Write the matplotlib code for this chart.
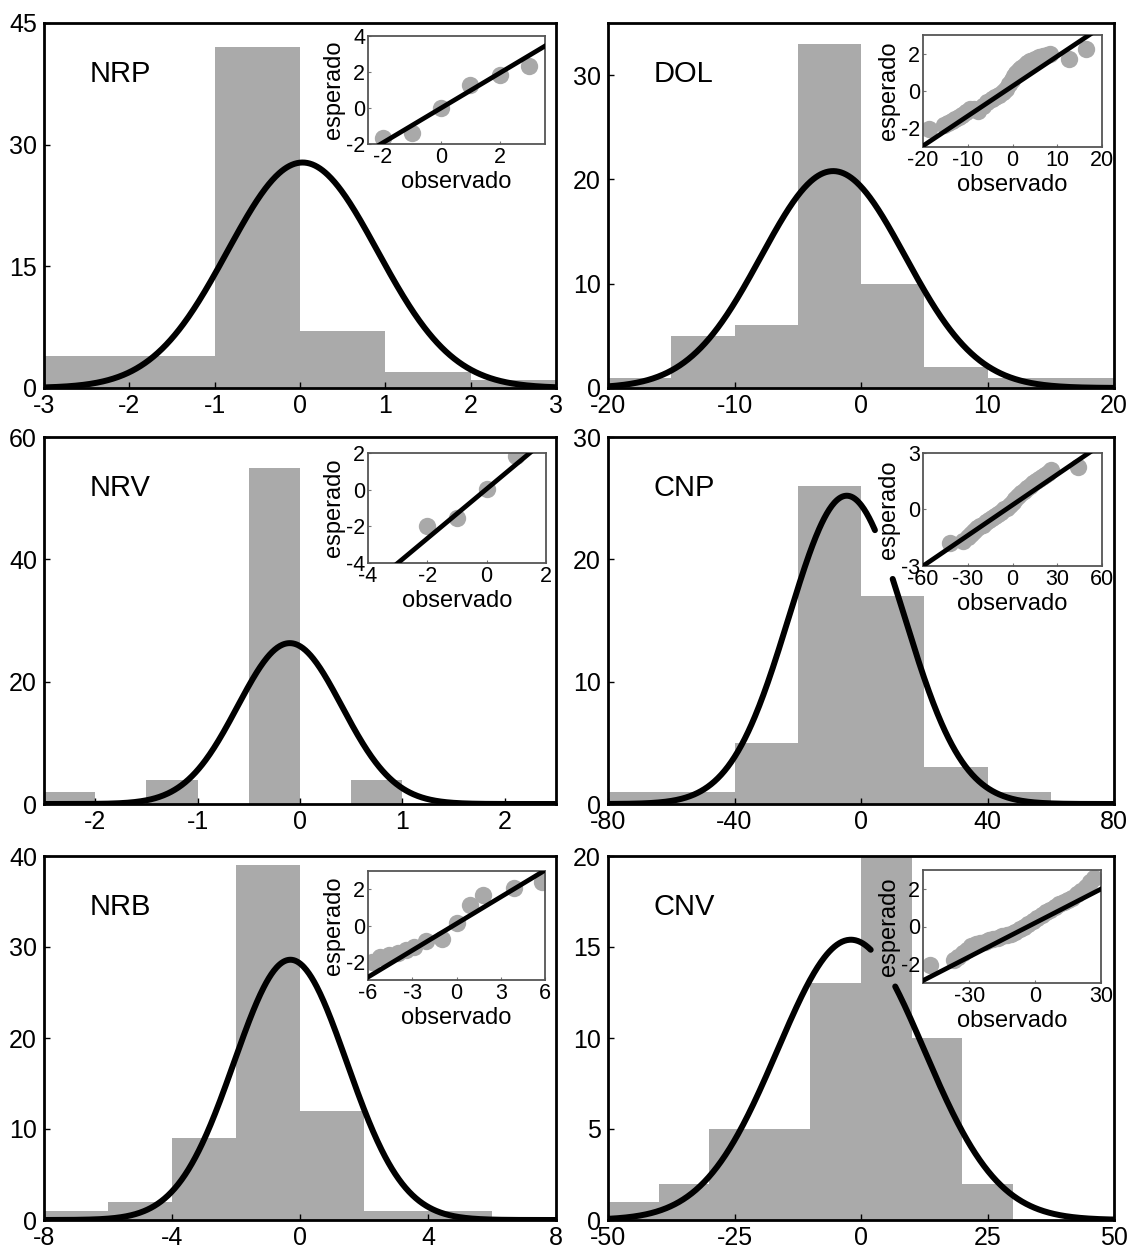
import numpy as np
import matplotlib
matplotlib.use("Agg")
import matplotlib.pyplot as plt

plt.rcParams['font.family'] = ['Liberation Sans', 'DejaVu Sans']
plt.rcParams['axes.unicode_minus'] = False

# ---------------- data ----------------
PANEL_NAMES = ["NRP", "DOL", "NRV", "CNP", "NRB", "CNV"]

NRP_EDGES = [-3, -2, -1, 0, 1, 2, 3]
NRP_COUNTS = [4, 4, 42, 7, 2, 1]
NRP_FIT = [0.03, 0.88, 27.8]          # mean, sd, peak height
NRP_XTICKS = [-3, -2, -1, 0, 1, 2, 3]
NRP_YTICKS = [0, 15, 30, 45]
NRP_QQ_OBS = [-2, -1, 0, 1, 2, 3]
NRP_QQ_EXP = [-1.68, -1.39, 0.0, 1.28, 1.85, 2.32]
NRP_QQ_LINE = [0.0, 0.97]             # intercept, slope

DOL_EDGES = [-20, -15, -10, -5, 0, 5, 10, 15, 20]
DOL_COUNTS = [1, 5, 6, 33, 10, 2, 1, 1]
DOL_FIT = [-2.2, 5.7, 20.8]
DOL_XTICKS = [-20, -10, 0, 10, 20]
DOL_YTICKS = [0, 10, 20, 30]
DOL_QQ_OBS = [-18.7, -15.3, -14.5, -13.6, -12.8, -12.0, -11.2, -10.4, -9.6, -8.6,
              -7.6, -6.6, -5.6, -4.6, -3.8, -3.0, -2.2, -1.4, -0.8, -0.2, 0.3,
              0.8, 1.4, 2.0, 2.6, 3.2, 4.0, 5.0, 6.0, 6.8, 7.6, 8.4, 12.6, 16.4]
DOL_QQ_EXP = [-2.05, -1.8, -1.7, -1.6, -1.5, -1.4, -1.3, -1.15, -0.95, -0.95,
              -1.05, -0.8, -0.6, -0.45, -0.3, -0.2, -0.05, 0.1, 0.35, 0.6, 0.8,
              0.95, 1.1, 1.25, 1.35, 1.5, 1.6, 1.7, 1.8, 1.9, 1.95, 2.0, 1.7, 2.25]
DOL_QQ_LINE = [0.26, 0.16]

NRV_EDGES = [-2.5, -2.0, -1.5, -1.0, -0.5, 0.0, 0.5, 1.0, 1.5, 2.0, 2.5]
NRV_COUNTS = [2, 0, 4, 0, 55, 0, 4, 0, 0, 0]
NRV_FIT = [-0.1, 0.51, 26.3]
NRV_XTICKS = [-2, -1, 0, 1, 2]
NRV_YTICKS = [0, 20, 40, 60]
NRV_QQ_OBS = [-2, -1, 0, 1]
NRV_QQ_EXP = [-2.0, -1.55, 0.05, 1.85]
NRV_QQ_LINE = [0.04, 1.35]

CNP_EDGES = [-80, -60, -40, -20, 0, 20, 40, 60, 80]
CNP_COUNTS = [1, 1, 5, 26, 17, 3, 1, 0]
CNP_FIT = [-4.5, 18.3, 25.2]
CNP_XTICKS = [-80, -40, 0, 40, 80]
CNP_YTICKS = [0, 10, 20, 30]
CNP_QQ_OBS = [-42, -33, -30, -28, -26, -24, -22, -20, -18, -16, -14, -12, -10,
              -8, -6, -4, -2, 0, 2, 4, 6, 8, 10, 12, 14, 16, 18, 20, 22, 24, 26, 44]
CNP_QQ_EXP = [-1.8, -1.65, -1.45, -1.3, -1.15, -1.0, -0.9, -0.8, -0.65, -0.55,
              -0.45, -0.35, -0.25, -0.15, 0.0, 0.1, 0.25, 0.4, 0.55, 0.7, 0.85,
              1.0, 1.15, 1.25, 1.4, 1.5, 1.6, 1.75, 1.85, 1.95, 2.1, 2.25]
CNP_QQ_LINE = [0.24, 0.054]

NRB_EDGES = [-8, -6, -4, -2, 0, 2, 4, 6, 8]
NRB_COUNTS = [1, 2, 9, 39, 12, 1, 1, 0]
NRB_FIT = [-0.3, 1.76, 28.6]
NRB_XTICKS = [-8, -4, 0, 4, 8]
NRB_YTICKS = [0, 10, 20, 30, 40]
NRB_QQ_OBS = [-5.7, -5.2, -4.6, -4.0, -3.4, -2.9, -2.1, -1.0, 0.0, 0.9, 1.8, 3.9, 5.8]
NRB_QQ_EXP = [-2.0, -1.75, -1.65, -1.5, -1.35, -1.2, -0.85, -0.75, 0.15, 1.15, 1.7, 2.05, 2.4]
NRB_QQ_LINE = [0.1, 0.49]

CNV_EDGES = [-50, -40, -30, -20, -10, 0, 10, 20, 30, 40, 50]
CNV_COUNTS = [1, 2, 5, 5, 13, 20, 10, 2, 0, 0]
CNV_FIT = [-2.0, 14.5, 15.4]
CNV_XTICKS = [-50, -25, 0, 25, 50]
CNV_YTICKS = [0, 5, 10, 15, 20]
CNV_QQ_OBS = [-47.6, -37, -35, -33, -31, -29, -27, -25, -23, -21, -19, -17, -15,
              -13, -11, -9, -7, -5, -3, -1, 1, 3, 5, 7, 9, 11, 13, 15, 17, 19,
              21, 23, 25, 27]
CNV_QQ_EXP = [-2.07, -1.8, -1.6, -1.4, -1.25, -1.05, -0.95, -0.85, -0.8, -0.72,
              -0.68, -0.6, -0.52, -0.45, -0.38, -0.28, -0.15, 0.0, 0.15, 0.3,
              0.45, 0.6, 0.75, 0.9, 1.05, 1.2, 1.3, 1.4, 1.5, 1.7, 1.9, 2.1,
              2.35, 2.6]
CNV_QQ_LINE = [0.19, 0.06]

# ---------------- layout / style ----------------
W, H = 1131, 1252
BAR = "#aaaaaa"
DOT = "#a9a9a9"

fig = plt.figure(figsize=(W / 100, H / 100), dpi=100)


def px_axes(l, t, r, b):
    return fig.add_axes([l / W, 1 - b / H, (r - l) / W, (b - t) / H])


panels = [
    dict(name="NRP", edges=NRP_EDGES, counts=NRP_COUNTS, fit=NRP_FIT,
         xt=NRP_XTICKS, yt=NRP_YTICKS, ylim=45, box=(44, 23, 556, 388),
         gap=None,
         qq=(NRP_QQ_OBS, NRP_QQ_EXP, NRP_QQ_LINE), ibox=(368, 36, 545, 144),
         ixlim=(-2.5, 3.55), iylim=(-2, 4), ixt=[-2, 0, 2], iyt=[-2, 0, 2, 4]),
    dict(name="DOL", edges=DOL_EDGES, counts=DOL_COUNTS, fit=DOL_FIT,
         xt=DOL_XTICKS, yt=DOL_YTICKS, ylim=35, box=(608, 23, 1114, 388),
         gap=None,
         qq=(DOL_QQ_OBS, DOL_QQ_EXP, DOL_QQ_LINE), ibox=(923, 35, 1102, 147),
         ixlim=(-20, 20), iylim=(-3, 3), ixt=[-20, -10, 0, 10, 20], iyt=[-2, 0, 2]),
    dict(name="NRV", edges=NRV_EDGES, counts=NRV_COUNTS, fit=NRV_FIT,
         xt=NRV_XTICKS, yt=NRV_YTICKS, ylim=60, box=(44, 437, 556, 804),
         gap=None,
         qq=(NRV_QQ_OBS, NRV_QQ_EXP, NRV_QQ_LINE), ibox=(368, 453, 546, 563),
         ixlim=(-4, 2), iylim=(-4, 2), ixt=[-4, -2, 0, 2], iyt=[-4, -2, 0, 2]),
    dict(name="CNP", edges=CNP_EDGES, counts=CNP_COUNTS, fit=CNP_FIT,
         xt=CNP_XTICKS, yt=CNP_YTICKS, ylim=30, box=(608, 437, 1114, 804),
         gap=(4.5, 9.8),
         qq=(CNP_QQ_OBS, CNP_QQ_EXP, CNP_QQ_LINE), ibox=(923, 453, 1102, 566),
         ixlim=(-60, 60), iylim=(-3, 3), ixt=[-60, -30, 0, 30, 60], iyt=[-3, 0, 3]),
    dict(name="NRB", edges=NRB_EDGES, counts=NRB_COUNTS, fit=NRB_FIT,
         xt=NRB_XTICKS, yt=NRB_YTICKS, ylim=40, box=(44, 856, 556, 1220),
         gap=None,
         qq=(NRB_QQ_OBS, NRB_QQ_EXP, NRB_QQ_LINE), ibox=(368, 871, 545, 980),
         ixlim=(-6, 6), iylim=(-3, 3), ixt=[-6, -3, 0, 3, 6], iyt=[-2, 0, 2]),
    dict(name="CNV", edges=CNV_EDGES, counts=CNV_COUNTS, fit=CNV_FIT,
         xt=CNV_XTICKS, yt=CNV_YTICKS, ylim=20, box=(608, 856, 1114, 1220),
         gap=(2.0, 6.6),
         qq=(CNV_QQ_OBS, CNV_QQ_EXP, CNV_QQ_LINE), ibox=(923, 870, 1101, 983),
         ixlim=(-51, 30), iylim=(-3, 3), ixt=[-30, 0, 30], iyt=[-2, 0, 2]),
]

for p in panels:
    ax = px_axes(*p["box"])
    edges = np.array(p["edges"], dtype=float)
    counts = np.array(p["counts"], dtype=float)
    ax.bar(edges[:-1], counts, width=np.diff(edges), align="edge",
           color=BAR, edgecolor="none", zorder=1)
    mu, sd, pk = p["fit"]
    x = np.linspace(edges[0], edges[-1], 600)
    y = pk * np.exp(-0.5 * ((x - mu) / sd) ** 2)
    if p["gap"] is not None:
        y = np.where((x > p["gap"][0]) & (x < p["gap"][1]), np.nan, y)
    ax.plot(x, y, color="black", lw=4.3, zorder=3, solid_capstyle="round")
    ax.set_xlim(edges[0], edges[-1])
    ax.set_ylim(0, p["ylim"])
    ax.set_xticks(p["xt"])
    ax.set_yticks(p["yt"])
    ax.tick_params(direction="in", length=4, width=1, labelsize=18,
                   top=False, right=False)
    ax.tick_params(axis="x", pad=4.5)
    ax.tick_params(axis="y", pad=5)
    for s in ax.spines.values():
        s.set_linewidth(2.0)
        s.set_zorder(5)
    ax.text(0.09, 0.86, p["name"], transform=ax.transAxes, fontsize=21,
            ha="left", va="center")

    # inset Q-Q plot
    obs, exp_, line = p["qq"]
    ia = px_axes(*p["ibox"])
    ia.set_facecolor("white")
    ia.plot(obs, exp_, "o", ms=12.5, color=DOT, mec="none", zorder=2,
            clip_on=True)
    lx = np.array(p["ixlim"], dtype=float)
    ia.plot(lx, line[0] + line[1] * lx, color="black", lw=3.4, zorder=3)
    ia.set_xlim(*p["ixlim"])
    ia.set_ylim(*p["iylim"])
    ia.set_xticks(p["ixt"])
    ia.set_yticks(p["iyt"])
    ia.tick_params(direction="in", length=2.5, width=0.8, colors="#777777",
                   labelcolor="black", labelsize=15.5, pad=2)
    for s in ia.spines.values():
        s.set_linewidth(1.3)
        s.set_color("#555555")
    ia.set_xlabel("observado", fontsize=17, labelpad=2)
    ia.set_ylabel("esperado", fontsize=17, labelpad=1)

fig.savefig("out.png", dpi=100)
